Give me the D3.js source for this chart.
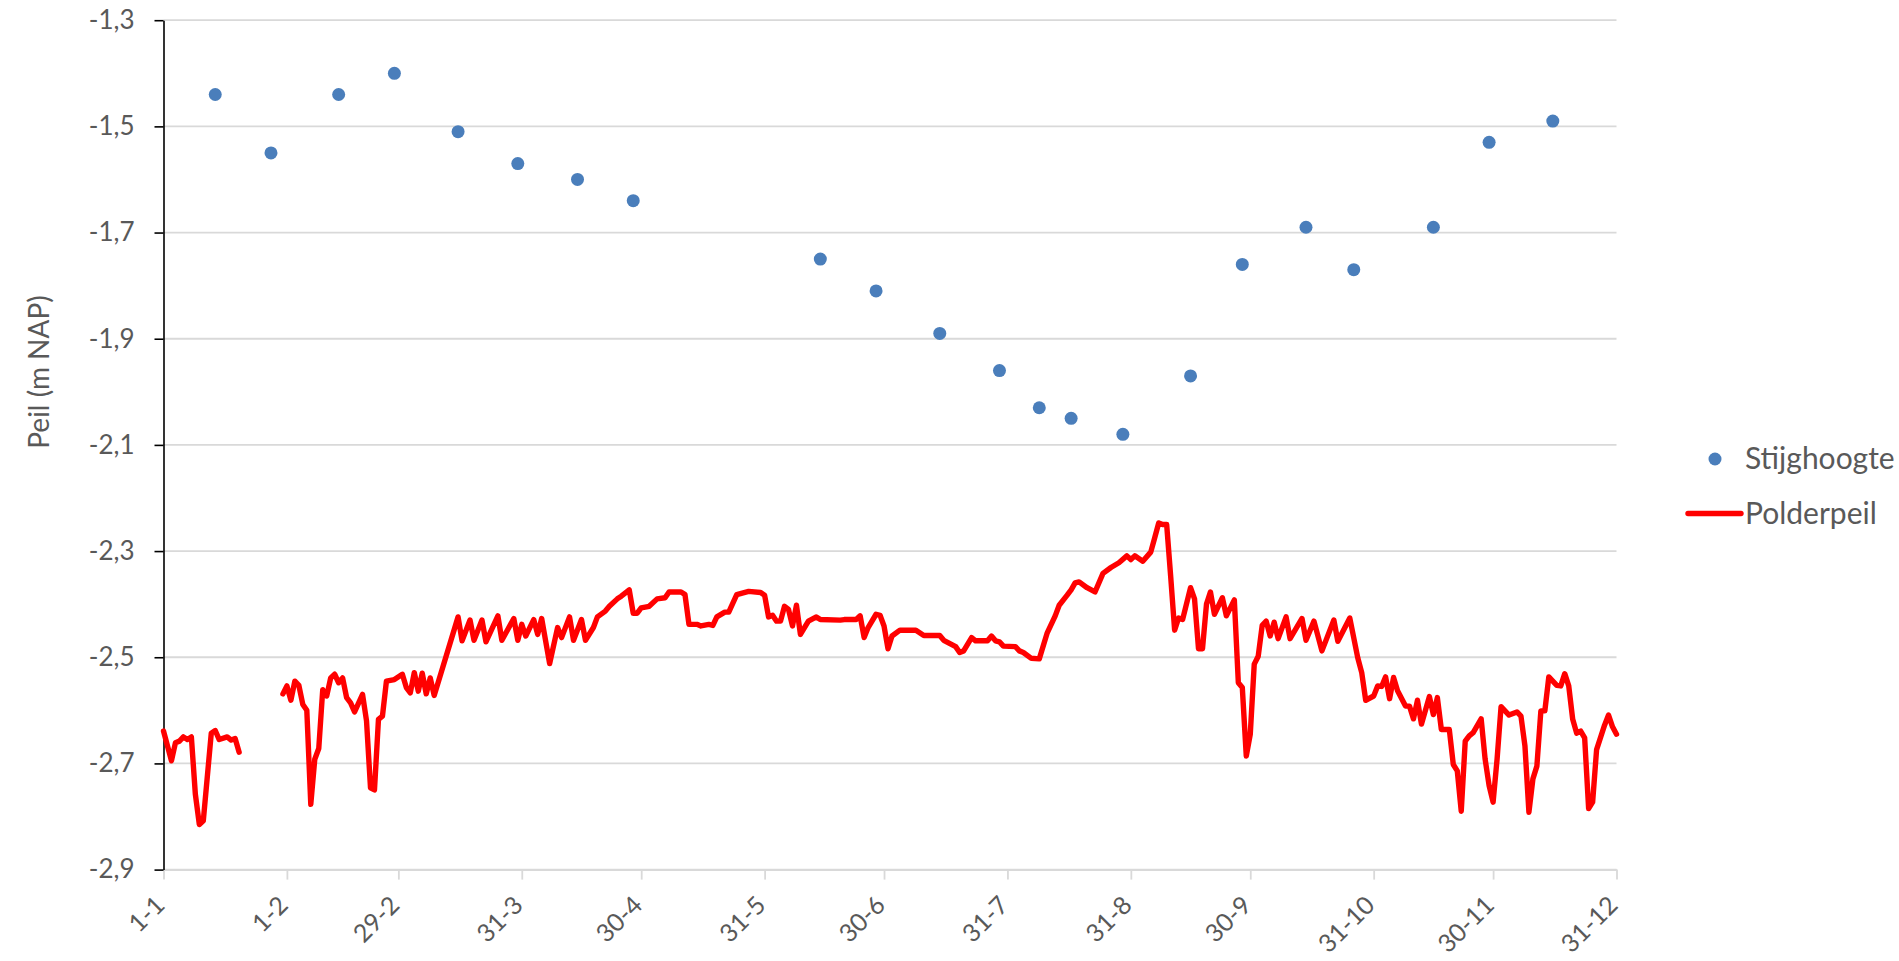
<!DOCTYPE html>
<html>
<head>
<meta charset="utf-8">
<script src="https://cdn.jsdelivr.net/npm/d3@7"></script>
<style>
  html, body { margin: 0; padding: 0; background: #ffffff; }
  svg { display: block; }
  text { font-family: Lato, "Open Sans", sans-serif; }
</style>
</head>
<body>
<svg id="chart" width="1899" height="961"></svg>
<script>
// ---- data ----
const xTickDays   = [0, 31, 59, 90, 120, 151, 181, 212, 243, 273, 304, 334, 365];
const xTickLabels = ["1-1", "1-2", "29-2", "31-3", "30-4", "31-5", "30-6", "31-7", "31-8", "30-9", "31-10", "30-11", "31-12"];
const yTicks      = [-2.9, -2.7, -2.5, -2.3, -2.1, -1.9, -1.7, -1.5, -1.3];

// Stijghoogte (day of year, m NAP)
const stijgDays   = [13, 27, 44, 58, 74, 89, 104, 118, 165, 179, 195, 210, 220, 228, 241, 258, 271, 287, 299, 319, 333, 349];
const stijgValues = [-1.44, -1.55, -1.44, -1.40, -1.51, -1.57, -1.60, -1.64, -1.75, -1.81, -1.89, -1.96, -2.03, -2.05, -2.08, -1.97, -1.76, -1.69, -1.77, -1.69, -1.53, -1.49];

// Polderpeil (day of year, m NAP); null = missing data
const polderDays = [
  0, 2, 3, 4, 5, 6, 7, 8, 9, 10, 12, 13, 14, 16, 17, 18, 19, 20,
  30, 31, 32, 33, 34, 35, 36, 37, 38, 39, 40, 41, 42, 43, 44, 45, 46, 47, 48, 50, 51, 52, 53, 54, 55, 56, 58,
  60, 61, 62, 63, 64, 65, 66, 67, 68, 74, 75, 77, 78, 80, 81, 84, 85, 88, 89, 90, 91, 93, 94, 95, 97, 99,
  100, 102, 103, 105, 106, 108, 109, 111, 112, 114, 115, 117, 118, 119, 120, 122, 124, 126, 127, 130, 131,
  132, 134, 135, 137, 138, 139, 141, 142, 144, 147, 150, 151, 152, 153, 154, 155, 156, 157, 158, 159, 160,
  162, 164, 165, 170, 171, 174, 175, 176, 177, 179, 180, 181, 182, 183, 185, 189, 191, 195, 196, 199, 200,
  201, 203, 204, 207, 208, 209, 210, 211, 214, 215, 216, 218, 220, 222, 224, 225, 227, 228, 229, 230, 232,
  234, 236, 238, 240, 242, 243, 244, 246, 248, 249, 250, 251, 252, 253, 254, 255, 256, 258, 259, 260, 261,
  262, 263, 264, 266, 267, 269, 270, 271, 272, 273, 274, 275, 276, 277, 278, 279, 280, 282, 283, 286, 287,
  289, 291, 294, 295, 298, 300, 301, 302, 304, 305, 306, 307, 308, 309, 310, 312, 313, 314, 315, 316, 318,
  319, 320, 321, 323, 324, 325, 326, 327, 328, 329, 331, 332, 333, 334, 335, 336, 338, 340, 341, 342, 343,
  344, 345, 346, 347, 348, 350, 351, 352, 353, 354, 355, 356, 357, 358, 359, 360, 362, 363, 364, 365
];
const polderValues = [
  -2.639, -2.695, -2.661, -2.658, -2.650, -2.655, -2.650, -2.758, -2.815, -2.808, -2.643, -2.638, -2.655, -2.650, -2.656, -2.653, -2.679, null,
  -2.569, -2.554, -2.581, -2.545, -2.553, -2.589, -2.600, -2.777, -2.692, -2.672, -2.561, -2.573, -2.539, -2.532, -2.548, -2.539, -2.576, -2.586, -2.603, -2.570, -2.620, -2.746, -2.750, -2.617, -2.611, -2.545, -2.542,
  -2.532, -2.557, -2.567, -2.529, -2.564, -2.530, -2.569, -2.539, -2.572, -2.424, -2.469, -2.430, -2.468, -2.430, -2.471, -2.422, -2.468, -2.427, -2.468, -2.438, -2.460, -2.429, -2.457, -2.427, -2.512, -2.444,
  -2.463, -2.424, -2.468, -2.429, -2.468, -2.444, -2.424, -2.413, -2.404, -2.390, -2.385, -2.373, -2.417, -2.417, -2.407, -2.404, -2.390, -2.388, -2.377, -2.377, -2.382,
  -2.438, -2.438, -2.441, -2.438, -2.440, -2.424, -2.415, -2.415, -2.382, -2.376, -2.378, -2.383, -2.424, -2.421, -2.432, -2.432, -2.404, -2.410, -2.441, -2.402, -2.457,
  -2.432, -2.424, -2.429, -2.430, -2.429, -2.429, -2.422, -2.463, -2.444, -2.419, -2.421, -2.441, -2.484, -2.460, -2.449, -2.449, -2.459, -2.459, -2.468, -2.480, -2.491,
  -2.488, -2.463, -2.469, -2.469, -2.460, -2.469, -2.471, -2.479, -2.480, -2.488, -2.491, -2.502, -2.503, -2.454, -2.422, -2.402, -2.383, -2.373, -2.360, -2.358, -2.369,
  -2.377, -2.342, -2.331, -2.322, -2.309, -2.316, -2.309, -2.319, -2.302, -2.275, -2.247, -2.250, -2.250, -2.347, -2.449, -2.426, -2.429, -2.369, -2.390, -2.484, -2.484,
  -2.400, -2.377, -2.419, -2.388, -2.422, -2.392, -2.548, -2.557, -2.686, -2.645, -2.513, -2.498, -2.440, -2.432, -2.460, -2.434, -2.465, -2.424, -2.465, -2.427, -2.468,
  -2.432, -2.488, -2.430, -2.470, -2.426, -2.501, -2.529, -2.581, -2.573, -2.554, -2.555, -2.537, -2.578, -2.538, -2.563, -2.592, -2.592, -2.616, -2.581, -2.626, -2.574,
  -2.608, -2.576, -2.636, -2.636, -2.702, -2.714, -2.790, -2.658, -2.648, -2.642, -2.616, -2.692, -2.742, -2.773, -2.692, -2.593, -2.609, -2.603, -2.611, -2.667, -2.792,
  -2.729, -2.705, -2.601, -2.601, -2.537, -2.553, -2.554, -2.531, -2.554, -2.617, -2.643, -2.639, -2.652, -2.785, -2.773, -2.674, -2.628, -2.609, -2.631, -2.645
];

const seriesNames = ["Stijghoogte", "Polderpeil"];
const yTitle = "Peil (m NAP)";

// ---- drawing ----
const svg = d3.select("#chart");
const plot = { left: 163.5, right: 1616.5, top: 20.2, bottom: 869.6 };

const x = d3.scaleLinear().domain([0, 365]).range([plot.left, plot.right]);
const y = d3.scaleLinear().domain([-2.9, -1.3]).range([plot.bottom, plot.top]);

const nl = d3.formatLocale({ decimal: ",", thousands: ".", grouping: [3], currency: ["€", ""], minus: "-" });
const fmt = nl.format(".1f");

const textColor = "#595959";
const gridColor = "#d9d9d9";

// gridlines
svg.append("g")
  .selectAll("line")
  .data(yTicks)
  .join("line")
  .attr("x1", plot.left).attr("x2", plot.right)
  .attr("y1", d => y(d)).attr("y2", d => y(d))
  .attr("stroke", gridColor).attr("stroke-width", 1.8);

// x axis
const xAxis = svg.append("g")
  .attr("transform", `translate(0,${plot.bottom})`)
  .call(d3.axisBottom(x).tickValues(xTickDays).tickSize(10).tickSizeOuter(0)
        .tickFormat((d, i) => xTickLabels[i]));
xAxis.select(".domain").attr("stroke", gridColor).attr("stroke-width", 1.8);
xAxis.selectAll(".tick line").attr("stroke", gridColor).attr("stroke-width", 1.8);
xAxis.selectAll(".tick text")
  .attr("fill", textColor)
  .attr("font-size", 25)
  .attr("text-anchor", "end")
  .attr("x", 0).attr("y", 0).attr("dy", "0.35em")
  .attr("transform", "translate(-4,31) rotate(-45)");

// y axis
const yAxis = svg.append("g")
  .attr("transform", `translate(${plot.left},0)`)
  .call(d3.axisLeft(y).tickValues(yTicks).tickSize(9).tickSizeOuter(0).tickPadding(20).tickFormat(fmt));
yAxis.select(".domain").attr("stroke", "#000").attr("stroke-width", 1.6);
yAxis.selectAll(".tick line").attr("stroke", "#000").attr("stroke-width", 1.6);
yAxis.selectAll(".tick text").attr("fill", textColor).attr("font-size", 26);

// y title
svg.append("text")
  .attr("transform", `translate(49,372) rotate(-90)`)
  .attr("text-anchor", "middle")
  .attr("fill", textColor)
  .attr("font-size", 28)
  .text(yTitle);

// polder line
const polder = polderDays.map((d, i) => ({ d, v: polderValues[i] }));
const line = d3.line()
  .defined(p => p.v !== null)
  .x(p => x(p.d))
  .y(p => y(p.v));
svg.append("path")
  .datum(polder)
  .attr("d", line)
  .attr("fill", "none")
  .attr("stroke", "#ff0000")
  .attr("stroke-width", 5.4)
  .attr("stroke-linejoin", "round")
  .attr("stroke-linecap", "round");

// stijghoogte points
svg.append("g")
  .selectAll("circle")
  .data(stijgDays.map((d, i) => ({ d, v: stijgValues[i] })))
  .join("circle")
  .attr("cx", p => x(p.d))
  .attr("cy", p => y(p.v))
  .attr("r", 6.5)
  .attr("fill", "#4a7ebb");

// legend
const lg = svg.append("g");
lg.append("circle").attr("cx", 1715).attr("cy", 459).attr("r", 6.5).attr("fill", "#4a7ebb");
lg.append("text").attr("x", 1745).attr("y", 469).attr("fill", textColor).attr("font-size", 30).text(seriesNames[0]);
lg.append("line").attr("x1", 1688).attr("x2", 1741).attr("y1", 513.5).attr("y2", 513.5)
  .attr("stroke", "#ff0000").attr("stroke-width", 5.4).attr("stroke-linecap", "round");
lg.append("text").attr("x", 1745).attr("y", 524).attr("fill", textColor).attr("font-size", 30).text(seriesNames[1]);
</script>
</body>
</html>
